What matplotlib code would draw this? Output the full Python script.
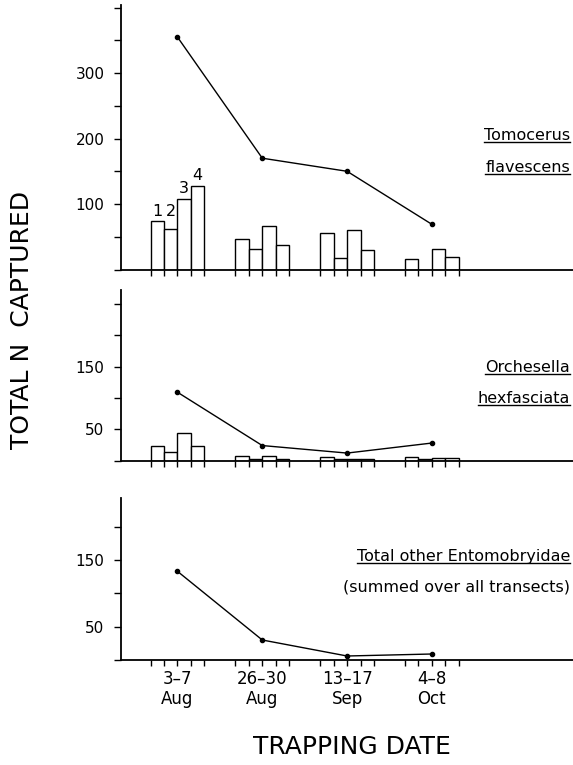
import numpy as np
import matplotlib
matplotlib.use('Agg')
import matplotlib.pyplot as plt
from matplotlib.lines import Line2D
from matplotlib.ticker import MultipleLocator, FixedLocator, NullFormatter

# data
dates       = ['3–7\nAug', '26–30\nAug', '13–17\nSep', '4–8\nOct']
transects   = ['1', '2', '3', '4']

tomo_total  = [355, 170, 150, 69]
tomo_bars   = [[74, 62, 108, 128],
               [46, 31, 67, 38],
               [55, 18, 60, 30],
               [16, 0, 31, 19]]

orch_total  = [109, 24, 12, 28]
orch_bars   = [[24, 13, 44, 24],
               [8, 3, 8, 3],
               [6, 3, 3, 3],
               [5, 3, 4, 4]]

other_total = [133, 30, 6, 9]

# layout
W, H        = 573, 765
left        = 121 / W
bw          = 0.159
xpos        = np.arange(len(dates))
offs        = (np.arange(4) - 1.5) * bw
xlim        = (-0.666, 4.664)

fig = plt.figure(figsize=(W / 100, H / 100), dpi=100)

ax_top = fig.add_axes([left, 1 - 269.5 / H, 1 - left, (269.5 - 5) / H])
ax_mid = fig.add_axes([left, 1 - 460.6 / H, 1 - left, (460.6 - 290) / H])
ax_bot = fig.add_axes([left, 1 - 660 / H, 1 - left, (660 - 498) / H])

edges = np.concatenate([x + np.arange(-2, 3) * bw for x in xpos])


def style(ax, ymax, majors, minor_step):
    ax.set_xlim(*xlim)
    ax.set_ylim(0, ymax)
    for s in ['top', 'right']:
        ax.spines[s].set_visible(False)
    for s in ['left', 'bottom']:
        ax.spines[s].set_linewidth(1.3)
    ax.yaxis.set_major_locator(FixedLocator(majors))
    ax.yaxis.set_minor_locator(MultipleLocator(minor_step))
    ax.yaxis.set_minor_formatter(NullFormatter())
    ax.tick_params(axis='y', which='both', direction='out', length=5, width=1,
                   labelsize=11, pad=7)
    ax.set_xticks(edges)
    ax.set_xticklabels([])
    ax.tick_params(axis='x', which='major', direction='out', length=4, width=1)


def bars(ax, vals):
    for i, grp in enumerate(vals):
        ax.bar(xpos[i] + offs, grp, width=bw, facecolor='white',
               edgecolor='black', linewidth=1.0, zorder=2)


def line(ax, vals):
    ax.plot(xpos, vals, color='black', lw=1.0, marker='o', ms=3, zorder=3)


style(ax_top, 404, [100, 200, 300], 50)
bars(ax_top, tomo_bars)
line(ax_top, tomo_total)
lab_y = np.maximum.accumulate(tomo_bars[0]) + 15
for j, t in enumerate(transects):
    ax_top.text(xpos[0] + offs[j], lab_y[j], t, ha='center', va='center', fontsize=11.5)

style(ax_mid, 272, [50, 150], 50)
bars(ax_mid, orch_bars)
line(ax_mid, orch_total)

style(ax_bot, 243, [50, 150], 50)
line(ax_bot, other_total)
ax_bot.xaxis.remove_overlapping_locs = False
ax_bot.set_xticks(xpos, minor=True)
ax_bot.set_xticklabels(dates, minor=True, fontsize=12, linespacing=1.15)
ax_bot.tick_params(axis='x', which='minor', length=0, pad=7)

# species labels (right aligned, some underlined)
labels = [
    (1 - 135 / H, 'Tomocerus', True),
    (1 - 167 / H, 'flavescens', True),
    (1 - 367 / H, 'Orchesella', True),
    (1 - 398 / H, 'hexfasciata', True),
    (1 - 556 / H, 'Total other Entomobryidae', True),
    (1 - 587 / H, '(summed over all transects)', False),
]
txts = []
for y, s, u in labels:
    t = fig.text(0.995, y, s, ha='right', va='center', fontsize=11.5)
    txts.append((t, u))

fig.text(22 / W, 1 - 320 / H, 'TOTAL N  CAPTURED', rotation=90,
         ha='center', va='center', fontsize=18)
fig.text(352 / W, 1 - 747 / H, 'TRAPPING DATE', ha='center', va='center', fontsize=18)

fig.canvas.draw()
r = fig.canvas.get_renderer()
for t, u in txts:
    if not u:
        continue
    bb = t.get_window_extent(r)
    y = (bb.y0 + 1) / H
    fig.add_artist(Line2D([bb.x0 / W, bb.x1 / W], [y, y], color='black',
                          lw=1.0, transform=fig.transFigure))

fig.savefig('out.png', dpi=100)
